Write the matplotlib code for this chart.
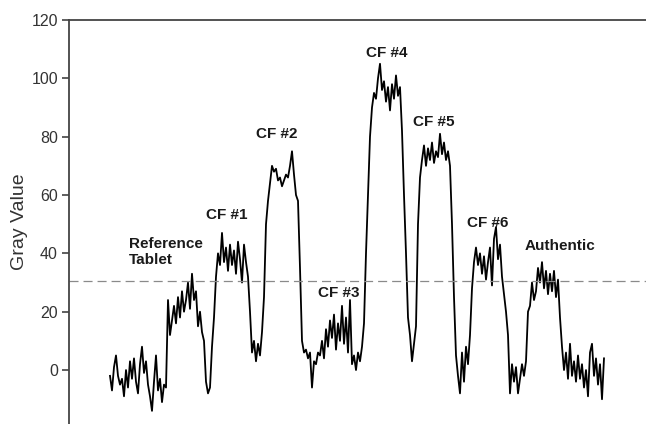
import numpy as np
import matplotlib
matplotlib.use("Agg")
import matplotlib.pyplot as plt

plt.rcParams['font.family'] = ['Liberation Sans', 'DejaVu Sans']
plt.rcParams['lines.scale_dashes'] = False

# Gray value profile sampled every 2 position units
profile = [
    # baseline
    -2, -7, 1, 5, -2, -5, -3, -9, 0, -6, 3, -3, 4, -4, -8, 2, 8, -1, 3, -5,
    -9, -14, -4, 5, -7, -3, -11, -5, -6,
    # reference tablet
    24, 12, 17, 22, 16, 25, 18, 27, 20, 24, 30, 21, 33, 24, 27, 15, 20, 13,
    10, -4, -8, -6, 8, 18, 32,
    # CF #1
    40, 36, 47, 37, 42, 34, 43, 36, 41, 33, 44, 38, 30, 43, 37, 32, 20, 6,
    10, 3, 9, 5, 13, 25, 50, 58,
    # CF #2
    64, 70, 68, 69, 65, 66, 63, 65, 67, 66, 70, 75, 67, 60, 58, 35, 10, 6,
    7, 4, 6, -6, 3, 2, 6, 5,
    # CF #3
    10, 4, 14, 8, 17, 11, 19, 7, 16, 10, 22, 9, 18, 6, 24, 2, 5, 0, 6, 3,
    8, 16, 40, 60, 80,
    # CF #4
    90, 95, 93, 100, 105, 96, 99, 92, 97, 89, 98, 93, 101, 94, 97, 82, 60,
    40, 18, 12, 3, 9, 15, 50, 66,
    # CF #5
    72, 77, 70, 76, 72, 78, 71, 75, 73, 81, 74, 78, 72, 75, 70, 50, 25, 5,
    -2, -8, 6, -4, 8, 2, 12, 28,
    # CF #6
    37, 42, 36, 40, 33, 39, 31, 37, 42, 29, 45, 49, 38, 43, 32, 26, 20, 12,
    -8, 2, -4, 1, -8, -3, 2, -2, 3,
    # authentic
    20, 22, 30, 24, 27, 35, 30, 37, 28, 34, 26, 33, 27, 34, 25, 31, 18, 8,
    # tail
    0, 6, -3, 9, -2, 3, -4, 5, -3, 2, -6, 0, -9, 6, 9, -2, 4, -5, 2, -10, 4,
]

threshold = 30.5
y_ticks = [0, 20, 40, 60, 80, 100, 120]

labels = ["Reference\nTablet", "CF #1", "CF #2", "CF #3", "CF #4",
          "CF #5", "CF #6", "Authentic"]
label_x = [19, 117, 167, 229, 277, 324, 378, 450]
label_y = [40.5, 53.1, 80.9, 26.4, 108.7, 85.0, 50.4, 42.5]
label_ha = ["left", "center", "center", "center", "center", "center",
            "center", "center"]

x = np.arange(len(profile)) * 2

fig = plt.figure(figsize=(6.46, 4.24), dpi=100)
ax = fig.add_axes([69 / 646, 0.0, 1 - 69 / 646, 1 - 20 / 424])

ax.plot(x, profile, color='black', lw=1.3)
ax.axhline(threshold, color='#8a8a8a', lw=0.9, dashes=(6.5, 3.6))

for t, lx, ly, ha in zip(labels, label_x, label_y, label_ha):
    ax.text(lx, ly, t, ha=ha, va='center', fontsize=11, fontweight='bold',
            color='#1a1a1a', linespacing=1.15)

ax.set_xlim(-41, 536)
ax.set_ylim(-18.5, 120)
ax.set_yticks(y_ticks)
ax.set_xticks([])
ax.tick_params(axis='y', direction='out', length=5, width=1.1,
               colors='#333333', labelsize=11.5, pad=3)
ax.set_ylabel("Gray Value", fontsize=14, color='#333333', labelpad=2)

for s in ['right', 'bottom']:
    ax.spines[s].set_visible(False)
for s in ['left', 'top']:
    ax.spines[s].set_color('#444444')
    ax.spines[s].set_linewidth(1.3)

fig.savefig("out.png", dpi=100)
